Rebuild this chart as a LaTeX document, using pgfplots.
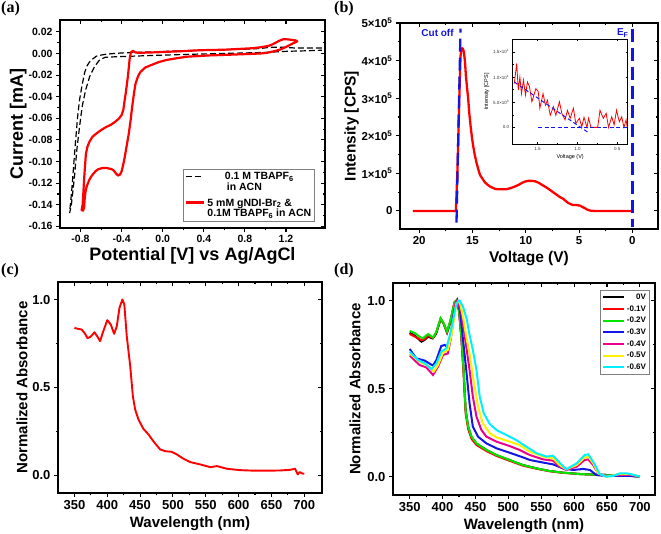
\documentclass[border=0pt]{standalone}
\usepackage{fontspec}
\setmainfont{Liberation Sans}
\newfontfamily\timesfont{Liberation Serif}
\usepackage{pgfplots}
\pgfplotsset{compat=1.18}
\newcommand{\fs}[1]{\fontsize{#1}{#1}\selectfont}
\definecolor{myblue}{RGB}{20,20,230}
\definecolor{mygreen}{RGB}{0,230,0}
\definecolor{myyellow}{RGB}{255,240,0}
\definecolor{mycyan}{RGB}{0,240,255}
\pgfplotsset{
 base/.style={scale only axis, axis line style={line width=1.3pt},
   every tick/.style={black, line width=1.1pt}, major tick length=4pt, minor tick length=2.5pt,
   scaled ticks=false,
   /pgf/number format/assume math mode=true, minor tick num=1},
 front/.style={base, tick align=outside, xtick pos=bottom, ytick pos=left},
 mirror/.style={base, tick align=inside, xtick pos=top, ytick pos=right, xticklabels={}, yticklabels={}},
 pA/.style={at={(60pt,306pt)}, anchor=south west, width=265pt, height=208pt,
   xmin=-1.0, xmax=1.58, ymin=-0.1615, ymax=0.031,
   xtick={-0.8,-0.4,0,0.4,0.8,1.2}, ytick={-0.16,-0.14,...,0.021}},
 pB/.style={at={(400pt,305pt)}, anchor=south west, width=258pt, height=206pt,
   xmin=-2.4, xmax=21.8, x dir=reverse, ymin=-48000, ymax=500000,
   xtick={0,5,10,15,20}, ytick={0,100000,200000,300000,400000,500000}},
 pC/.style={at={(58pt,41pt)}, anchor=south west, width=264pt, height=211pt,
   xmin=325, xmax=727, ymin=-0.1, ymax=1.1,
   xtick={350,400,...,700}, ytick={0,0.5,1}},
 pD/.style={at={(393pt,39pt)}, anchor=south west, width=262pt, height=212pt,
   xmin=324.6, xmax=723, ymin=-0.104, ymax=1.1,
   xtick={350,400,...,700}, ytick={0,0.5,1}},
}
\begin{document}
\begin{tikzpicture}
\useasboundingbox (0pt,0pt) rectangle (661pt,534pt);
\node[anchor=north west, inner sep=0pt, font=\timesfont\bfseries\fs{16}] at (1pt,533pt) {(a)};
\node[anchor=north west, inner sep=0pt, font=\timesfont\bfseries\fs{16}] at (334pt,533pt) {(b)};
\node[anchor=north west, inner sep=0pt, font=\timesfont\bfseries\fs{16}] at (1pt,271pt) {(c)};
\node[anchor=north west, inner sep=0pt, font=\timesfont\bfseries\fs{16}] at (334pt,271pt) {(d)};

% ---------------- (a)
\begin{axis}[front, pA,
  tick label style={font=\bfseries\fs{10.5}},
  label style={font=\bfseries\fs{18}},
  xlabel style={yshift=2pt}, ylabel style={yshift=-5pt},
  xticklabel style={/pgf/number format/.cd, fixed, fixed zerofill, precision=1},
  yticklabel style={/pgf/number format/.cd, fixed, fixed zerofill, precision=2},
  xlabel={Potential [V] vs Ag/AgCl}, ylabel={Current [mA]},
  legend style={at={(0.962,0.029)}, anchor=south east, font=\bfseries\fs{10.5},
    draw=gray, line width=0.5pt, cells={align=left}, inner sep=1.5pt, row sep=3pt},
  legend image code/.code={\draw[#1] (0pt,6pt) -- (18pt,6pt);}]
\addplot[black, line width=1.2pt, dash pattern=on 6pt off 3pt] coordinates {
(1.55,0.005) (1.3,0.005) (1.17,0.0058) (1.05,0.0058) (0.95,0.0046) (0.8,0.004) (0.6,0.0035) (0.36,0.003) (0.1,0.0022) (-0.2,0.0012) (-0.4,0.0005) (-0.55,-0.0006) (-0.6,-0.0015) (-0.647,-0.0025) (-0.68,-0.005) (-0.712,-0.0077) (-0.74,-0.012) (-0.761,-0.018) (-0.79,-0.032) (-0.81,-0.043) (-0.83,-0.06) (-0.842,-0.074) (-0.856,-0.09) (-0.868,-0.105) (-0.88,-0.12) (-0.891,-0.132) (-0.907,-0.1477)
(-0.891,-0.1415) (-0.875,-0.128) (-0.859,-0.114) (-0.836,-0.089) (-0.81,-0.068) (-0.784,-0.049) (-0.751,-0.034) (-0.712,-0.0215) (-0.663,-0.012) (-0.615,-0.006) (-0.56,-0.0035) (-0.45,-0.003) (-0.3,-0.0025) (0.0,-0.0015) (0.36,-0.0005) (0.8,0.0005) (1.0,0.001) (1.2,0.002) (1.4,0.0025) (1.55,0.003)};
\addlegendentry{0.1 M TBAPF\textsubscript{6}\\\hspace{2pt}in ACN}
\addplot[red, line width=2.2pt, line join=round] coordinates {
(-0.27,0.001) (-0.29,0.0025) (-0.31,0.001) (-0.322,-0.005) (-0.329,-0.012) (-0.34,-0.022) (-0.352,-0.031) (-0.362,-0.038) (-0.37,-0.043) (-0.383,-0.052) (-0.40,-0.057) (-0.424,-0.060) (-0.46,-0.063) (-0.505,-0.066) (-0.55,-0.068) (-0.602,-0.071) (-0.645,-0.074) (-0.683,-0.077) (-0.71,-0.081) (-0.732,-0.086) (-0.748,-0.093) (-0.757,-0.105) (-0.765,-0.116) (-0.772,-0.128) (-0.78,-0.140) (-0.79,-0.145) (-0.775,-0.1455) (-0.765,-0.142) (-0.76,-0.135) (-0.752,-0.128) (-0.74,-0.123) (-0.715,-0.117) (-0.69,-0.113) (-0.655,-0.109) (-0.626,-0.107) (-0.585,-0.106) (-0.545,-0.106) (-0.50,-0.107) (-0.48,-0.108) (-0.455,-0.111) (-0.435,-0.113) (-0.415,-0.112) (-0.40,-0.109) (-0.385,-0.103) (-0.37,-0.096) (-0.35,-0.085) (-0.33,-0.074) (-0.313,-0.062) (-0.297,-0.049) (-0.28,-0.037) (-0.265,-0.028) (-0.24,-0.021) (-0.216,-0.017) (-0.17,-0.013) (-0.12,-0.011) (-0.04,-0.008) (0.036,-0.006) (0.13,-0.0045) (0.23,-0.003) (0.45,-0.0018) (0.686,-0.001) (0.85,-0.0004) (0.95,0.0) (1.01,0.0005) (1.08,0.002) (1.14,0.0035) (1.2,0.006) (1.26,0.009) (1.31,0.0112) (1.29,0.0122) (1.24,0.0128) (1.2,0.0132) (1.17,0.0131) (1.14,0.012) (1.11,0.0105) (1.07,0.0085) (1.03,0.007) (0.95,0.0057) (0.86,0.0048) (0.6,0.0035) (0.36,0.003) (0.2,0.0022) (0.036,0.0015) (-0.1,0.001) (-0.23,0.0006) (-0.27,0.001)};
\addlegendentry{5 mM gNDI-Br\textsubscript{2} \&\\0.1M TBAPF\textsubscript{6} in ACN}
\end{axis}
\begin{axis}[mirror, pA]
\end{axis}

% ---------------- (b)
\begin{axis}[front, pB,
  tick label style={font=\bfseries\fs{11.5}},
  label style={font=\bfseries\fs{15.5}},
  ylabel style={yshift=-4pt},
  yticklabels={0,1×10\textsuperscript{5},2×10\textsuperscript{5},3×10\textsuperscript{5},4×10\textsuperscript{5},5×10\textsuperscript{5}},
  xlabel={Voltage (V)}, ylabel={Intensity [CPS]}, clip=false]
\addplot[red, line width=2.3pt, line join=round] coordinates {
(20.6,0) (18,0) (16.9,0) (16.56,0) (16.45,80000) (16.4,119000) (16.32,210000) (16.24,297000) (16.18,360000) (16.12,413000) (16.04,430000) (15.96,433000) (15.88,430000) (15.8,422000) (15.7,395000) (15.62,360000) (15.5,325000) (15.4,297000) (15.3,260000) (15.18,226000) (15.05,195000) (14.93,172000) (14.78,148000) (14.62,128000) (14.45,110000) (14.3,96000) (14.05,85000) (13.83,76000) (13.6,70000) (13.36,65000) (13.0,60000) (12.74,58000) (12.3,57500) (11.8,58000) (11.4,61000) (11.02,65000) (10.7,69000) (10.4,74000) (10.1,78000) (9.77,80000) (9.45,80000) (9.14,79000) (8.8,75000) (8.51,70000) (8.1,63000) (7.73,56000) (7.4,49000) (7.1,43000) (6.8,37000) (6.48,32000) (6.2,25000) (6.0,21000) (5.7,17000) (5.54,16000) (5.2,15500) (4.9,14000) (4.65,10000) (4.44,7000) (4.2,3000) (3.97,1000) (3.6,0) (0.06,0)};
\addplot[myblue, line width=2.3pt, dash pattern=on 13pt off 6pt] coordinates {(16.5,-31000) (16.12,485000)};
\addplot[myblue, line width=2.3pt, dash pattern=on 13pt off 6pt] coordinates {(0,485000) (0,-42000)};
\node[anchor=east, inner sep=0pt, text=myblue, font=\bfseries\fs{10}] at (axis cs:16.75,473000) {Cut off};
\node[anchor=east, inner sep=0pt, text=myblue, font=\bfseries\fs{10}] at (axis cs:0.35,473000) {E\textsubscript{F}};
\end{axis}
\begin{axis}[mirror, pB]
\end{axis}

% inset
\begin{axis}[scale only axis, at={(512.7pt,390pt)}, anchor=south west, width=115pt, height=104.7pt,
  xmin=0.37, xmax=1.81, x dir=reverse, ymin=-3.3, ymax=17.5,
  axis line style={line width=0.6pt}, every tick/.style={black, line width=0.5pt},
  major tick length=2pt, minor tick length=1.2pt, minor tick num=1, tick align=inside,
  /pgf/number format/assume math mode=true,
  xtick={0.5,1.0,1.5}, ytick={0,5,10,15},
  xticklabels={0.5,1.0,1.5},
  yticklabels={0.0,5.0×10\textsuperscript{0},1.0×10\textsuperscript{1},1.5×10\textsuperscript{1}},
  tick label style={font=\fs{4.5}, text=black!80},
  xlabel={Voltage (V)}, ylabel={Intensity [CPS]},
  label style={font=\fs{5.5}},
  xlabel style={yshift=3pt}, ylabel style={yshift=-3pt}]
\addplot[red, line width=0.8pt] coordinates {
(1.79,8.7) (1.76,12.7) (1.74,7.4) (1.72,10) (1.70,6.7) (1.675,9.4) (1.65,6.4) (1.625,9.0) (1.6,8.1) (1.57,5.1) (1.55,6.1) (1.52,7.7) (1.49,7.1) (1.47,3.8) (1.43,6.7) (1.40,4.4) (1.375,5.4) (1.34,2.4) (1.30,4.1) (1.27,2.4) (1.225,5.1) (1.195,2.8) (1.155,1.5) (1.125,3.4) (1.09,1.8) (1.05,3.8) (1.02,0.8) (0.975,1.8) (0.945,0.1) (0.917,2.0) (0.88,0) (0.86,1.8) (0.83,0) (0.746,0) (0.717,3.4) (0.675,1.8) (0.64,2.8) (0.61,0) (0.57,2.1) (0.54,0.5) (0.51,3.4) (0.475,1.1) (0.445,2.1) (0.417,0) (0.39,1.5) (0.375,0)};
\addplot[myblue, line width=1pt, dash pattern=on 4pt off 2.5pt] coordinates {(1.79,9.0) (0.86,-1.06)};
\addplot[myblue, line width=1pt, dash pattern=on 4pt off 2.5pt] coordinates {(1.49,0) (0.38,0)};
\end{axis}

% ---------------- (c)
\begin{axis}[front, pC,
  tick label style={font=\bfseries\fs{13}},
  label style={font=\bfseries\fs{15}},
  ylabel style={yshift=-2pt},
  yticklabel style={/pgf/number format/.cd, fixed, fixed zerofill, precision=1},
  xlabel={Wavelength (nm)}, ylabel={Normalized Absorbance}]
\addplot[red, line width=1.9pt, line join=round] coordinates {
(350,0.839) (356,0.833) (361,0.83) (366,0.807) (370,0.78) (375,0.79) (380.5,0.814) (385,0.79) (389,0.763) (394,0.82) (400,0.883) (405.4,0.858) (410.5,0.805) (414.5,0.848) (418.6,0.953) (423,1.0) (426,0.972) (429.7,0.792) (435,0.62) (439,0.45) (442.5,0.375) (447.5,0.318) (455,0.265) (462.8,0.233) (470,0.195) (480.5,0.148) (488,0.138) (498,0.134) (506,0.119) (516,0.095) (526,0.076) (541.5,0.0625) (557,0.047) (567,0.053) (582,0.038) (602,0.03) (623,0.027) (643,0.027) (663,0.028) (678.6,0.032) (686,0.038) (690,0.006) (693,0.019) (697,0.011) (700,0.009)};
\end{axis}
\begin{axis}[mirror, pC]
\end{axis}

% ---------------- (d)
\begin{axis}[front, pD,
  tick label style={font=\bfseries\fs{13}},
  label style={font=\bfseries\fs{15}},
  yticklabel style={/pgf/number format/.cd, fixed, fixed zerofill, precision=1},
  xlabel={Wavelength (nm)}, ylabel={Normalized Absorbance},
  legend style={at={(0.98,0.967)}, anchor=north east, font=\bfseries\fs{8},
    draw=gray, line width=0.5pt, inner sep=1.5pt, row sep=0.6pt},
  legend cell align=right,
  legend image code/.code={\draw[#1] (0pt,0pt) -- (21pt,0pt);}]
\addplot[black, line width=2pt] coordinates {(350,0.818) (358,0.80) (367.7,0.767) (372,0.775) (378,0.795) (385,0.785) (390,0.81) (397,0.895) (401.5,0.87) (406.8,0.818) (412,0.88) (418,0.985) (421,1.0) (425,0.947) (428.6,0.795) (432,0.60) (435,0.38) (439,0.282) (444,0.225) (451.5,0.188) (467,0.151) (482,0.122) (502,0.094) (522,0.066) (543,0.047) (563,0.032) (583,0.023) (609,0.015) (634,0.011) (654,0.009) (685,0.006) (700,0)};
\addlegendentry{0V}
\addplot[red, line width=2pt] coordinates {(350,0.81) (358,0.795) (367.7,0.775) (372,0.78) (378,0.80) (385,0.788) (390,0.815) (397,0.898) (401.5,0.872) (406.8,0.82) (412,0.885) (418,0.99) (421,1.0) (425,0.94) (428.6,0.78) (432,0.58) (435,0.36) (439,0.27) (444,0.215) (451.5,0.18) (467,0.145) (482,0.118) (502,0.09) (522,0.063) (543,0.045) (563,0.031) (583,0.022) (609,0.015) (634,0.011) (654,0.009) (685,0.006) (700,0)};
\addlegendentry{-0.1V}
\addplot[mygreen, line width=2pt] coordinates {(350,0.828) (358,0.815) (365,0.795) (370,0.786) (378,0.81) (385.5,0.79) (390.6,0.824) (397,0.9) (401.7,0.87) (406.8,0.824) (412,0.89) (418.5,0.994) (421,1.0) (425,0.947) (428.6,0.795) (432,0.606) (435,0.379) (438.8,0.284) (444,0.227) (451.5,0.189) (466.7,0.152) (482,0.123) (502,0.095) (522,0.066) (543,0.047) (563,0.032) (583,0.023) (609,0.015) (634,0.011) (654,0.009) (685,0.006) (700,0)};
\addlegendentry{-0.2V}
\addplot[myblue, line width=2pt] coordinates {(350,0.725) (360,0.672) (373,0.659) (379.4,0.644) (385.5,0.631) (390.6,0.663) (398,0.742) (403,0.748) (406.8,0.739) (412,0.80) (418,0.95) (422.5,1.0) (427,0.93) (431,0.78) (436,0.606) (441,0.417) (446,0.284) (454,0.227) (466.7,0.189) (482,0.161) (502,0.136) (522,0.11) (532.6,0.095) (553,0.08) (568,0.07) (583,0.047) (598.5,0.038) (614,0.044) (624,0.038) (634,0.009) (649,0.004) (670,0.005) (685,0.004) (700,0)};
\addlegendentry{-0.3V}
\addplot[magenta, line width=2pt] coordinates {(350,0.688) (365,0.634) (375,0.621) (385.5,0.578) (393,0.625) (400.7,0.691) (408,0.70) (413,0.795) (420,0.994) (422.5,1.0) (428.6,0.928) (436,0.739) (441,0.606) (446,0.455) (451.5,0.341) (459,0.265) (466.7,0.227) (482,0.199) (502,0.174) (517,0.152) (532.6,0.123) (553,0.098) (568,0.091) (578,0.057) (588,0.038) (604,0.057) (616,0.095) (621.5,0.098) (629,0.066) (636.6,0.019) (649,0.004) (669.5,0.009) (685,0.011) (700,0)};
\addlegendentry{-0.4V}
\addplot[myyellow, line width=2pt] coordinates {(350,0.70) (365,0.653) (380,0.625) (386.5,0.597) (393,0.634) (400.7,0.705) (408,0.72) (414,0.814) (421,0.985) (426,0.994) (431,0.909) (436,0.795) (441,0.70) (447,0.549) (454,0.398) (461,0.303) (472,0.246) (482,0.223) (502,0.199) (517,0.18) (532.6,0.142) (553,0.114) (568,0.104) (578,0.066) (588,0.042) (604,0.066) (616,0.11) (621.5,0.114) (629,0.076) (636.6,0.019) (649,0) (669.5,0.015) (685,0.015) (700,0)};
\addlegendentry{-0.5V}
\addplot[mycyan, line width=2pt] coordinates {(350,0.71) (362.7,0.663) (373,0.644) (383,0.61) (390.6,0.644) (398,0.71) (405.8,0.729) (413,0.833) (420,0.966) (423.5,0.998) (426,1.0) (431,0.966) (437,0.89) (441,0.805) (446,0.72) (451.5,0.606) (456.5,0.455) (462.6,0.36) (471.7,0.299) (482,0.265) (497,0.237) (512,0.208) (527.5,0.17) (543,0.133) (558,0.114) (568,0.119) (578,0.08) (588,0.042) (604,0.076) (616,0.123) (621.5,0.127) (629,0.085) (639,0.015) (649,0) (659,0.004) (669.5,0.019) (680,0.019) (690,0.011) (700,0)};
\addlegendentry{-0.6V}
\end{axis}
\begin{axis}[mirror, pD]
\end{axis}
\end{tikzpicture}
\end{document}
